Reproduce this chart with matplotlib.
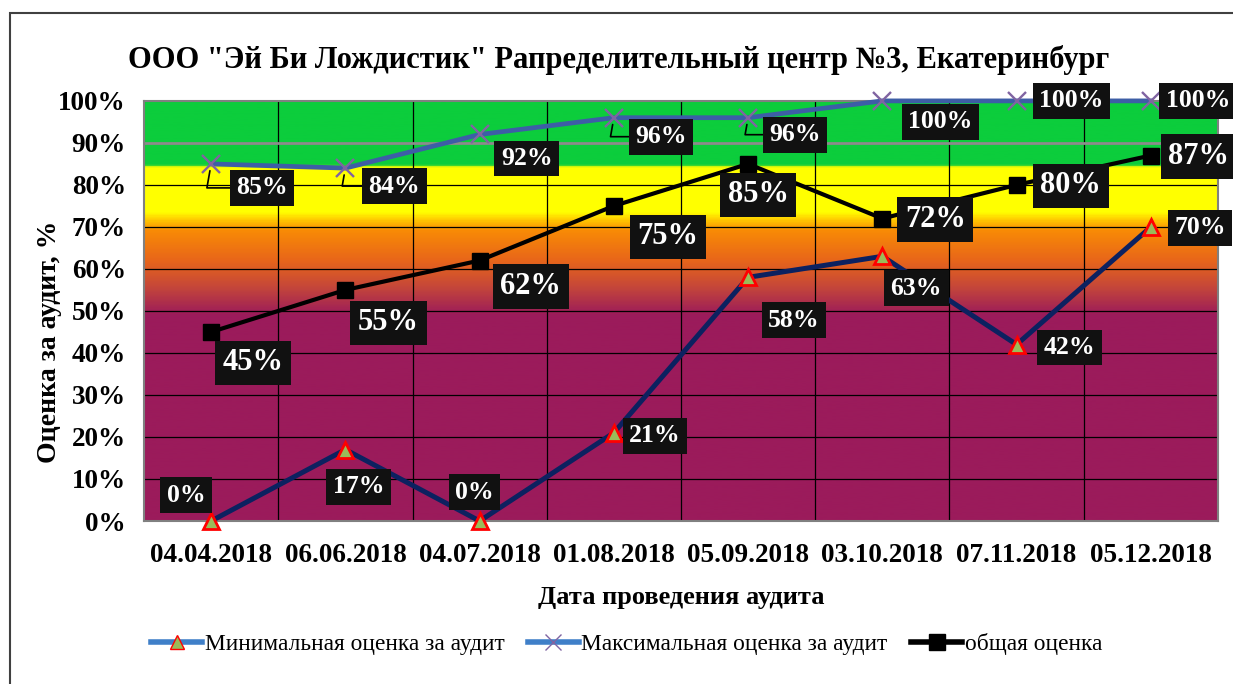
import numpy as np
import matplotlib.pyplot as plt
from matplotlib.colors import LinearSegmentedColormap
from matplotlib.lines import Line2D
from matplotlib.patches import Rectangle

plt.rcParams['font.family'] = ['Liberation Serif', 'DejaVu Serif']

# Данные
dates = ['04.04.2018', '06.06.2018', '04.07.2018', '01.08.2018',
         '05.09.2018', '03.10.2018', '07.11.2018', '05.12.2018']
min_score = [0, 17, 0, 21, 58, 63, 42, 70]
max_score = [85, 84, 92, 96, 96, 100, 100, 100]
total_score = [45, 55, 62, 75, 85, 72, 80, 87]

title = 'ООО "Эй Би Лождистик" Рапределительный центр №3, Екатеринбург'
names = ['Минимальная оценка за аудит', 'Максимальная оценка за аудит', 'общая оценка']

# смещения подписей (пиксели)
off_min = [(-25, 26), (13, -37), (-5, 29), (41, -3), (46, -43), (34, -32), (53, -3), (49, -1)]
off_max = [(51, -24), (49, -18), (47, -24), (47, -19), (47, -17), (58, -21), (55, 0), (47, 0)]
off_tot = [(42, -31), (43, -33), (51, -26), (54, -31), (10, -31), (53, -1), (54, -1), (48, -1)]
leader_max = [True, True, False, True, True, False, False, False]

fig = plt.figure(figsize=(12.33, 6.84), dpi=100)
ax = fig.add_axes([0.1168, 0.2383, 0.871, 0.6142])

x = np.arange(len(dates))
ax.set_xlim(-0.5, len(dates) - 0.5)
ax.set_ylim(0, 1)

# фон-градиент
stops = [(0.0, '#9b1b5b'), (0.49, '#9b1b5b'), (0.555, '#c4463a'), (0.62, '#e8661a'),
         (0.69, '#f88a06'), (0.715, '#ffc400'), (0.735, '#ffff00'), (0.842, '#ffff00'),
         (0.848, '#0ccd3c'), (1.0, '#0ccd3c')]
cmap = LinearSegmentedColormap.from_list('zones', stops)
grad = np.linspace(0, 1, 600).reshape(-1, 1)
ax.imshow(grad, cmap=cmap, aspect='auto', origin='lower',
          extent=[-0.5, len(dates) - 0.5, 0, 1], zorder=0)

for yv in np.arange(0.1, 1.0, 0.1):
    ax.axhline(yv, color='black', lw=0.9, zorder=1)
for xv in np.arange(0.5, len(dates) - 0.5, 1):
    ax.axvline(xv, color='black', lw=0.9, zorder=1)
ax.axhline(0.9, color='#8c8c8c', lw=2, zorder=1.5)

ymin = np.array(min_score) / 100
ymax = np.array(max_score) / 100
ytot = np.array(total_score) / 100

ax.plot(x, ymin, color='#0c2160', lw=3.6, marker='^', ms=11, mfc='#9bbb59',
        mec='#ff0000', mew=2, zorder=3, clip_on=False)
ax.plot(x, ymax, color='#3d5ea6', lw=3.4, marker='x', ms=13, mec='#8064a2',
        mew=1.7, zorder=3, clip_on=False)
ax.plot(x, ytot, color='black', lw=3, marker='s', ms=12, zorder=3, clip_on=False)

box = dict(boxstyle='square,pad=0.25', fc='#111111', ec='none')


def labels(ys, vals, offs, size, leaders=None):
    for i, (xi, yi) in enumerate(zip(x, ys)):
        ap = None
        if leaders is not None and leaders[i]:
            ap = dict(arrowstyle='-', color='black', lw=1.2, shrinkA=0, shrinkB=5,
                      relpos=(0, 0.5), connectionstyle='angle,angleA=0,angleB=80,rad=0')
        ax.annotate(f'{vals[i]}%', (xi, yi), xytext=offs[i], textcoords='offset pixels',
                    ha='center', va='center', color='white', fontweight='bold',
                    fontsize=size, bbox=box, zorder=5, arrowprops=ap, annotation_clip=False)


labels(ymin, min_score, off_min, 18.5)
labels(ymax, max_score, off_max, 18.5, leader_max)
labels(ytot, total_score, off_tot, 22)

ax.set_xticks(x)
ax.set_xticklabels(dates, fontsize=19.5, fontweight='bold')
ax.set_yticks(np.arange(0, 1.01, 0.1))
ax.set_yticklabels([f'{v}%' for v in range(0, 101, 10)], fontsize=19.5, fontweight='bold')
ax.tick_params(axis='y', length=0, pad=13)
ax.tick_params(axis='x', length=0, pad=16)
for s in ax.spines.values():
    s.set_color('#808080')
    s.set_linewidth(1.5)

ax.set_xlabel('Дата проведения аудита', fontsize=19, fontweight='bold', labelpad=13)
ax.set_ylabel('Оценка за аудит, %', fontsize=20, fontweight='bold')
ax.yaxis.set_label_coords(-0.076, 0.426)
fig.text(0.502, 0.913, title, ha='center', va='center', fontsize=22, fontweight='bold')

handles = [
    Line2D([], [], color='#3f7fc8', lw=4, marker='^', ms=10, mfc='#9bbb59', mec='#ff0000'),
    Line2D([], [], color='#3f7fc8', lw=4, marker='x', ms=12, mec='#8064a2'),
    Line2D([], [], color='black', lw=4, marker='s', ms=11),
]
fig.legend(handles, names, loc='center', bbox_to_anchor=(0.508, 0.058), ncol=3,
           frameon=False, fontsize=16.8, handlelength=2.2, handletextpad=0.1, columnspacing=1.0)

fig.patches.append(Rectangle((10 / 1233, -0.1), 1.2, 1.1 - 13 / 684, transform=fig.transFigure,
                             fill=False, ec='#404040', lw=1.5))

fig.savefig('out.png', dpi=100)
